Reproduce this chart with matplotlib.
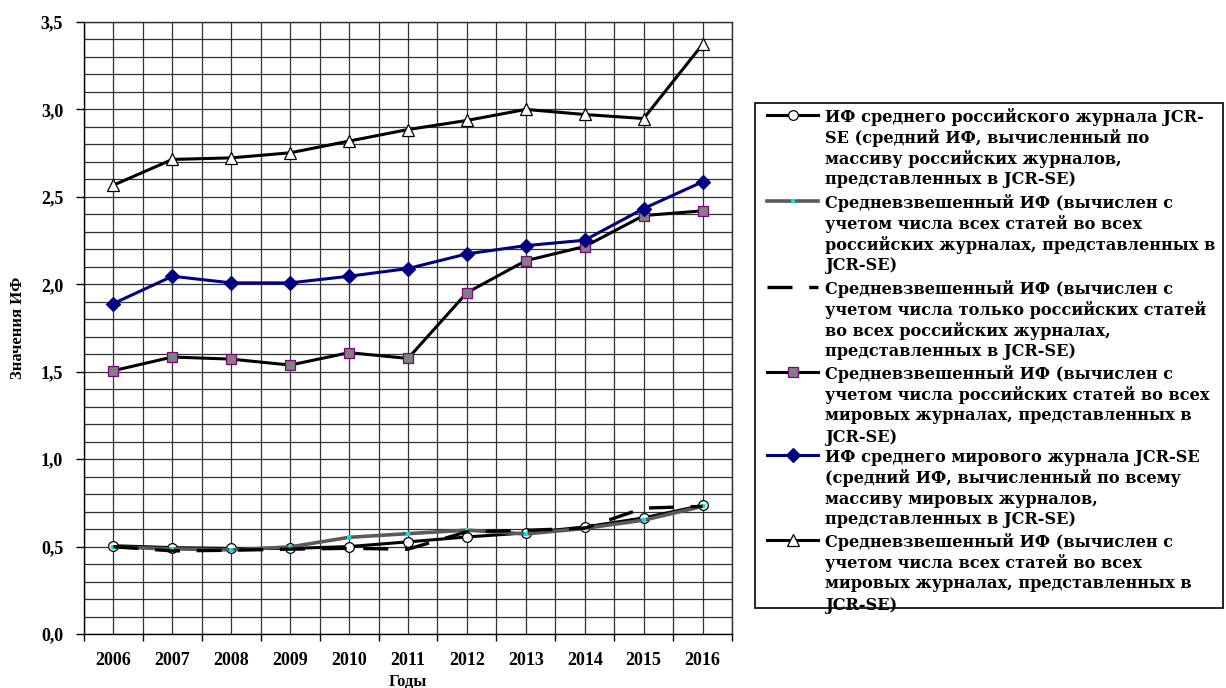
import matplotlib
matplotlib.use("Agg")
import matplotlib.pyplot as plt
from matplotlib.lines import Line2D
from matplotlib.patches import Rectangle
from matplotlib.ticker import FixedLocator, FuncFormatter

# ---- data -------------------------------------------------------------
years = ["2006", "2007", "2008", "2009", "2010", "2011",
         "2012", "2013", "2014", "2015", "2016"]

if_rus_mean = [0.505, 0.494, 0.489, 0.489, 0.500, 0.527,
               0.555, 0.578, 0.612, 0.664, 0.736]
if_rus_weighted_all = [0.497, 0.487, 0.481, 0.498, 0.553, 0.574,
                       0.594, 0.572, 0.604, 0.651, 0.730]
if_rus_weighted_rus = [0.500, 0.475, 0.479, 0.485, 0.490, 0.485,
                       0.585, 0.593, 0.605, 0.720, 0.730]
if_world_weighted_rus = [1.506, 1.584, 1.572, 1.538, 1.609, 1.576,
                         1.952, 2.135, 2.216, 2.393, 2.420]
if_world_mean = [1.890, 2.046, 2.008, 2.008, 2.046, 2.090,
                 2.174, 2.221, 2.252, 2.433, 2.586]
if_world_weighted_all = [2.567, 2.714, 2.723, 2.752, 2.819, 2.885,
                         2.937, 3.000, 2.971, 2.948, 3.372]

labels = [
    ["ИФ среднего российского журнала JCR-",
     "SE (средний ИФ, вычисленный по",
     "массиву российских журналов,",
     "представленных в JCR-SE)"],
    ["Средневзвешенный ИФ (вычислен с",
     "учетом числа всех статей во всех",
     "российских журналах, представленных в",
     "JCR-SE)"],
    ["Средневзвешенный ИФ (вычислен с",
     "учетом числа только российских статей",
     "во всех российских журналах,",
     "представленных в JCR-SE)"],
    ["Средневзвешенный ИФ (вычислен с",
     "учетом числа российских статей во всех",
     "мировых журналах, представленных в",
     "JCR-SE)"],
    ["ИФ среднего мирового журнала JCR-SE",
     "(средний ИФ, вычисленный по всему",
     "массиву мировых журналов,",
     "представленных в JCR-SE)"],
    ["Средневзвешенный ИФ (вычислен с",
     "учетом числа всех статей во всех",
     "мировых журналах, представленных в",
     "JCR-SE)"],
]

y_label = "Значения ИФ"
x_label = "Годы"

# ---- styles -----------------------------------------------------------
FONT = "Liberation Serif"
LEGEND_FONT = "DejaVu Serif"
W, H = 1226, 688

plt.rcParams["font.family"] = [FONT, "DejaVu Serif"]
plt.rcParams["font.weight"] = "bold"

styles = [
    dict(color="black", lw=2.2, marker="o", ms=7, mfc="white", mec="black", mew=0.9),
    dict(color="#5a5a5a", lw=2.6, marker="s", ms=2.2, mfc="#00e5e5", mec="#00e5e5", mew=0),
    dict(color="black", lw=2.4, dashes=(7.5, 5)),
    dict(color="black", lw=2.2, marker="s", ms=7, mfc="#808080", mec="#800080", mew=0.9),
    dict(color="#000080", lw=2.2, marker="D", ms=7.5, mfc="#000080", mec="#000080", mew=0.9),
    dict(color="black", lw=2.2, marker="^", ms=9, mfc="white", mec="black", mew=0.9),
]
series = [if_rus_mean, if_rus_weighted_all, if_rus_weighted_rus,
          if_world_weighted_rus, if_world_mean, if_world_weighted_all]

fig = plt.figure(figsize=(W / 100, H / 100), dpi=100)
ax = fig.add_axes([84 / W, 1 - 634 / H, (732 - 84) / W, (634 - 22) / H])

x = list(range(len(years)))
for vals, st in zip(series, styles):
    ax.plot(x, vals, zorder=3, clip_on=False, **st)

# axes, ticks, grid
ax.set_xlim(-0.5, len(years) - 0.5)
ax.set_ylim(0, 3.5)
ax.xaxis.set_major_locator(FixedLocator(x))
ax.set_xticklabels(years)
ax.xaxis.set_minor_locator(FixedLocator([i - 0.5 for i in range(len(years) + 1)]))
ax.yaxis.set_major_locator(FixedLocator([i * 0.5 for i in range(8)]))
ax.yaxis.set_minor_locator(FixedLocator([i * 0.1 for i in range(36)]))
ax.yaxis.set_major_formatter(FuncFormatter(lambda v, p: f"{v:.1f}".replace(".", ",")))

ax.tick_params(axis="x", which="major", length=0, pad=13, labelsize=13)
ax.tick_params(axis="x", which="minor", length=5, width=1, direction="out")
ax.tick_params(axis="y", which="major", length=6, width=1, direction="out", pad=9,
               labelsize=13)
ax.tick_params(axis="y", which="minor", length=0)

ax.grid(True, which="both", color="#303030", lw=0.9)
ax.set_axisbelow(True)
for side, sp in ax.spines.items():
    sp.set_color("#303030" if side in ("top", "right") else "black")
    sp.set_linewidth(1.0)

fig.text(18 / W, 1 - 328 / H, y_label, rotation=90, ha="center", va="center",
         weight="bold", fontsize=12)
fig.text(408 / W, 1 - 682 / H, x_label, ha="center", va="center",
         weight="bold", fontsize=12)

# ---- legend box drawn in figure pixels ----------------------------------
def fx(px):
    return px / W


def fy(py):
    return 1 - py / H


fig.patches.append(Rectangle((fx(755), fy(608)), fx(1223) - fx(755), fy(103) - fy(608),
                             transform=fig.transFigure, fill=False, ec="black", lw=1.2))
entry_top = [115, 201, 287, 372, 455, 540]
pitch = 21.0
for st, lines, y0 in zip(styles, labels, entry_top):
    handle = Line2D([fx(767), fx(818)], [fy(y0), fy(y0)], transform=fig.transFigure, **st)
    handle.set_markevery([])
    fig.lines.append(handle)
    if st.get("marker"):
        fig.lines.append(Line2D([fx(792.5)], [fy(y0)], transform=fig.transFigure,
                                linestyle="none", marker=st["marker"], ms=st["ms"],
                                mfc=st["mfc"], mec=st["mec"], mew=st["mew"]))
    for k, line in enumerate(lines):
        fig.text(fx(825), fy(y0 + k * pitch), line, ha="left", va="center_baseline",
                 family=LEGEND_FONT, weight="bold", fontsize=11.6)

fig.savefig("out.png", dpi=100)
